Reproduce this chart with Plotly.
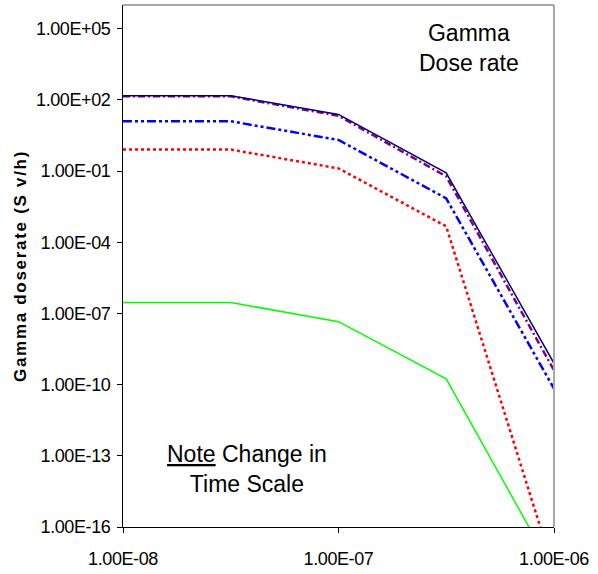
import plotly.graph_objects as go

# Time points (s)
time_s = [1e-8, 3.16e-8, 1e-7, 3.16e-7, 1e-6]

# Gamma dose rate series (Sv/h)
navy_solid = [151, 151, 24.5, 0.085, 7.9e-10]
purple_dashdot = [141, 141, 21.5, 0.060, 4.0e-10]
blue_dashdotdot = [12.6, 12.6, 2.05, 7.1e-3, 6.8e-11]
red_dotted = [0.81, 0.81, 0.13, 4.7e-4, 1.4e-18]
green_solid = [2.9e-7, 2.9e-7, 4.5e-8, 1.75e-10, 1.3e-18]

x_tickvals = [1e-8, 1e-7, 1e-6]
x_ticktext = ["1.00E-08", "1.00E-07", "1.00E-06"]
y_tickvals = [1e5, 1e2, 1e-1, 1e-4, 1e-7, 1e-10, 1e-13, 1e-16]
y_ticktext = ["1.00E+05", "1.00E+02", "1.00E-01", "1.00E-04",
              "1.00E-07", "1.00E-10", "1.00E-13", "1.00E-16"]

FONT = "Liberation Sans, Arial, sans-serif"


def tight(t):
    return '<span style="letter-spacing:-0.4px">' + t + '</span>'


fig = go.Figure()
series = [
    (green_solid, "#00FF00", "solid", 1.5),
    (red_dotted, "#FF0000", "3px,3px", 2.5),
    (blue_dashdotdot, "#0000FF", "9px,3px,3px,3px,3px,3px", 2.5),
    (purple_dashdot, "#800080", "7px,3px,2px,3px", 2.5),
    (navy_solid, "#000080", "solid", 1.5),
]
for ys, col, dash, w in series:
    fig.add_trace(go.Scatter(x=time_s, y=ys, mode="lines",
                             line=dict(color=col, dash=dash, width=w),
                             showlegend=False, hoverinfo="skip"))

fig.update_layout(
    width=598, height=574,
    margin=dict(l=123, r=44, t=5, b=47),
    paper_bgcolor="white", plot_bgcolor="white",
    font=dict(family=FONT, size=18, color="black"),
    showlegend=False,
)
fig.update_xaxes(type="log", range=[-8, -6],
                 tickvals=x_tickvals, ticktext=[tight(t) for t in x_ticktext],
                 ticks="outside", ticklen=5, tickcolor="black",
                 showline=True, linecolor="black", linewidth=1,
                 showgrid=False, zeroline=False, ticklabelstandoff=10)
fig.update_yaxes(type="log", range=[-16, 6],
                 tickvals=y_tickvals, ticktext=[tight(t) for t in y_ticktext],
                 ticks="outside", ticklen=5, tickcolor="black",
                 showline=True, linecolor="black", linewidth=1,
                 showgrid=False, zeroline=False, ticklabelstandoff=3,
                 title=dict(text='<b><span style="letter-spacing:1.7px">Gamma doserate (S v/h)</span></b>',
                            font=dict(size=17), standoff=5))

# top and right frame (gray)
fig.add_shape(type="line", xref="paper", yref="paper", x0=0, x1=1, y0=1, y1=1,
              line=dict(color="#A8A8A8", width=2))
fig.add_shape(type="line", xref="paper", yref="paper", x0=1, x1=1, y0=0, y1=1,
              line=dict(color="#A8A8A8", width=2))

fig.add_annotation(text="Gamma<br>Dose rate", xref="paper", yref="paper",
                   x=0.8028, y=0.9176, xanchor="center", yanchor="middle",
                   showarrow=False, font=dict(size=23))
fig.add_annotation(text='<span style="text-decoration:underline">Note</span> Change in<br>Time Scale',
                   xref="paper", yref="paper",
                   x=0.2877, y=0.111, xanchor="center", yanchor="middle",
                   showarrow=False, font=dict(size=23))

fig.write_html("out.html", config={"displayModeBar": False},
               post_script="document.body.style.margin='0';document.body.style.padding='0';")
